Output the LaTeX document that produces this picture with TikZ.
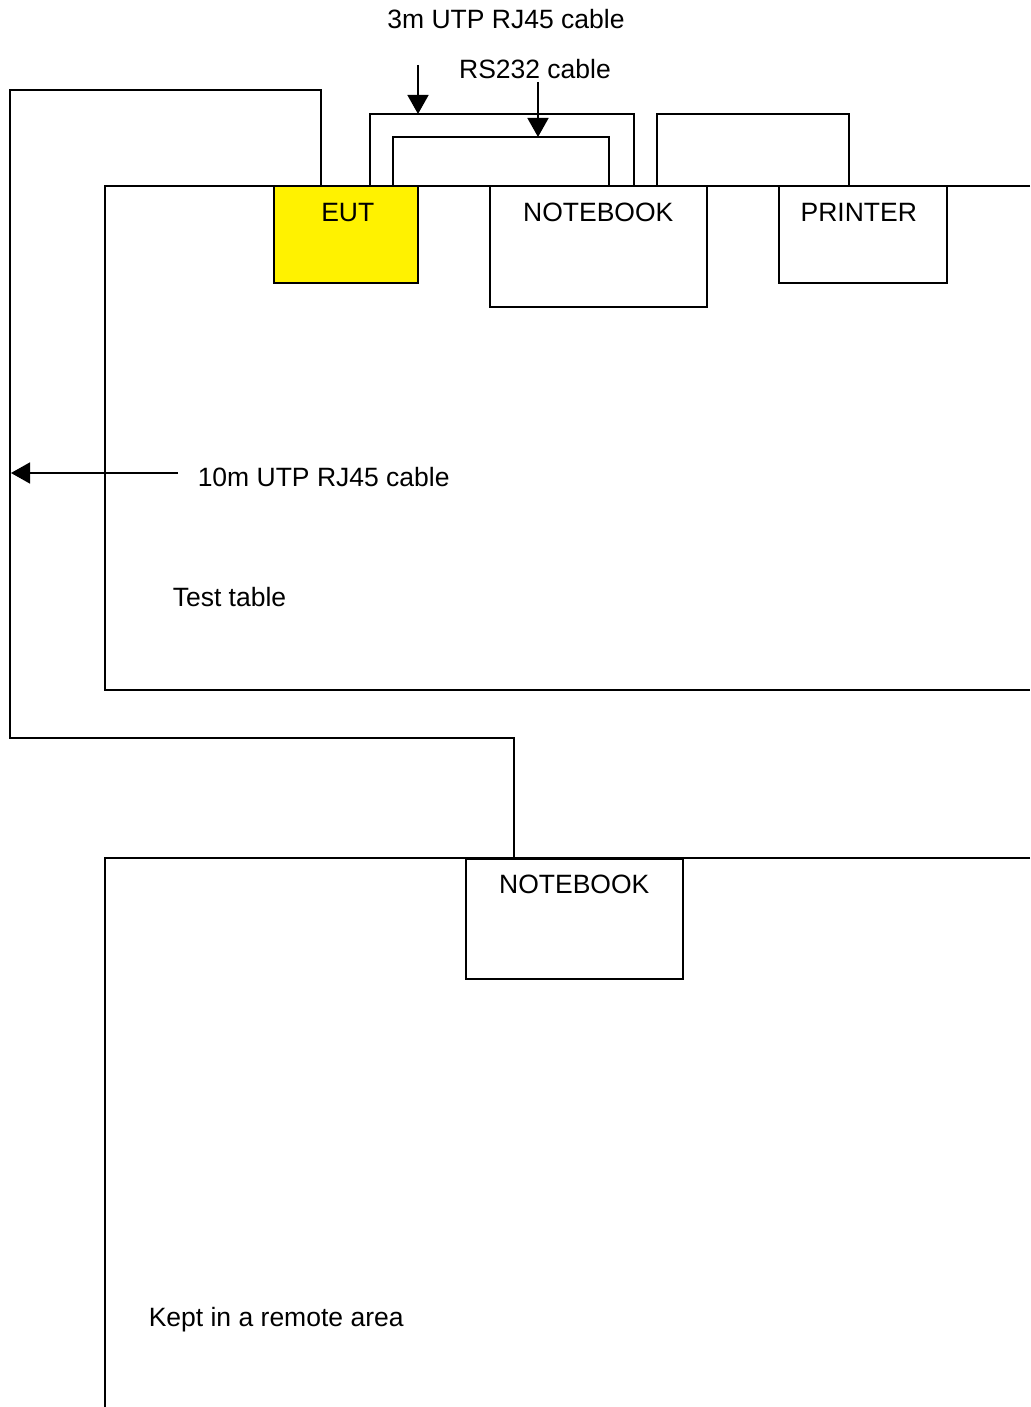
\documentclass[tikz,border=0pt]{standalone}
\usepackage{fontspec}
\setmainfont{Liberation Sans}
\usetikzlibrary{arrows.meta}
\begin{document}
\begin{tikzpicture}[x=1pt,y=-1pt, line width=1.5pt,
  box/.style={draw, rectangle, inner sep=0pt, anchor=north west},
  lbl/.style={font=\fontsize{26.5}{30}\selectfont, inner sep=0pt, anchor=base},
  lbll/.style={lbl, anchor=base west},
  pointer/.style={-{Triangle[length=19pt,width=21pt]}}]
\useasboundingbox (0,0) rectangle (1030,1407);
% tables
\draw (1030,186) -- (105,186) -- (105,690) -- (1030,690);
\draw (1030,858) -- (105,858) -- (105,1407);
% devices
\node[box, fill=yellow, minimum width=144pt, minimum height=96pt] (eut) at (273,186) {};
\node[box, minimum width=217pt, minimum height=120pt] (nb1) at (489,186) {};
\node[box, minimum width=168pt, minimum height=96pt] (prn) at (778,186) {};
\node[box, minimum width=217pt, minimum height=120pt] (nb2) at (465,858) {};
\node[lbl, yshift=-35pt, xshift=2pt] (eutl) at (eut.north) {EUT};
\node[lbl, yshift=-35pt] (nb1l) at (nb1.north) {NOTEBOOK};
\node[lbl, yshift=-35pt, xshift=-4pt] (prnl) at (prn.north) {PRINTER};
\node[lbl, yshift=-35pt] (nb2l) at (nb2.north) {NOTEBOOK};
% cables
\coordinate (c10) at (514,738);
\draw ([xshift=48pt]eut.north west) |- (10,90) |- (c10) -- (c10 |- nb2.north);
\draw ([xshift=97pt]eut.north west) |- ([xshift=145pt,yshift=72pt]nb1.north west) -- ([xshift=145pt]nb1.north west);
\draw ([xshift=120pt]eut.north west) |- ([xshift=120pt,yshift=49pt]nb1.north west) -- ([xshift=120pt]nb1.north west);
\draw ([xshift=168pt]nb1.north west) |- ([xshift=71pt,yshift=72pt]prn.north west) -- ([xshift=71pt]prn.north west);
% arrows
\coordinate (a1s) at (418,65); \coordinate (a1e) at (418,114);
\coordinate (a2s) at (538,82); \coordinate (a2e) at (538,137);
\coordinate (a3s) at (178,473); \coordinate (a3e) at (11,473);
\draw[pointer] (a1s) -- (a1e);
\draw[pointer] (a2s) -- (a2e);
\draw[pointer] (a3s) -- (a3e);
% labels
\node[lbl] (t1) at (506,29) {3m UTP RJ45 cable};
\node[lbl] (t2) at (535,79) {RS232 cable};
\node[lbll] (t3) at (197,486) {10m UTP RJ45 cable};
\node[lbll] (t4) at (172,606) {Test table};
\node[lbll] (t5) at (148,1326) {Kept in a remote area};
\end{tikzpicture}
\end{document}
